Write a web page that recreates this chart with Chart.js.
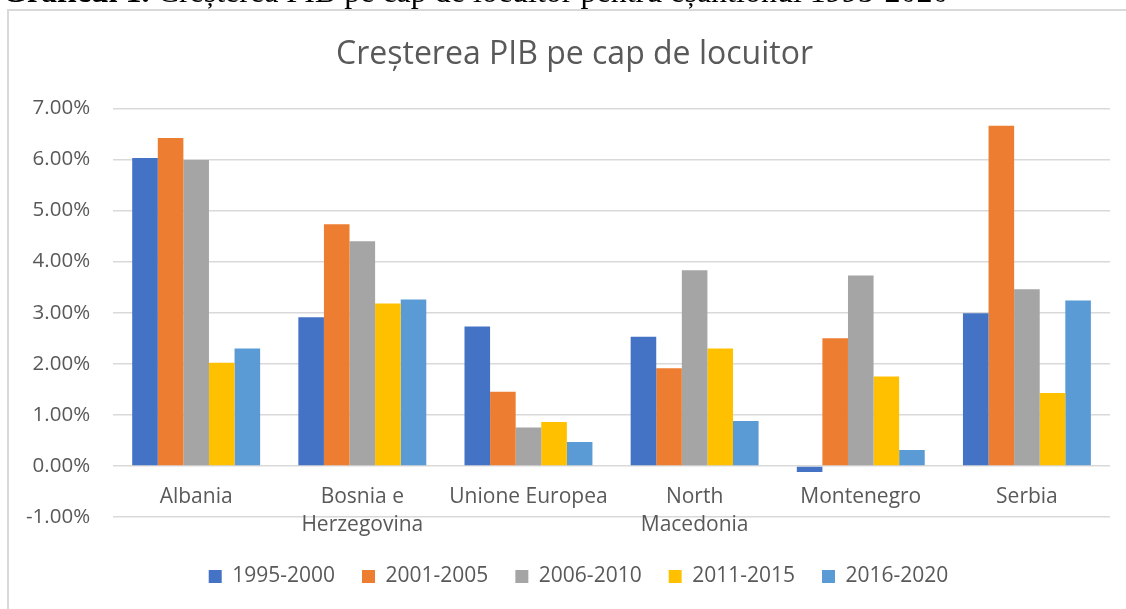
<!DOCTYPE html>
<html>
<head>
<meta charset="utf-8">
<script src="https://cdn.jsdelivr.net/npm/chart.js@4.4.1/dist/chart.umd.min.js"></script>
<style>
  html, body { margin: 0; padding: 0; background: #fff; overflow: hidden; width: 1126px; height: 609px; }
  #caption {
    position: absolute; left: 2px; top: -27px; white-space: nowrap; z-index: 2;
    font-family: "Liberation Serif", serif; font-size: 32px; color: #000;
  }
  #frame {
    position: absolute; left: 7px; top: 9px; width: 1200px; height: 700px;
    border: 2px solid #d9d9d9; box-sizing: border-box;
  }
  #plot { position: absolute; left: 0; top: 0; }
</style>
</head>
<body>
<div id="frame"></div>
<canvas id="plot" width="1150" height="609"></canvas>
<div id="caption"><b>Graficul 1.</b> Creșterea PIB pe cap de locuitor pentru eșantionul 1995-2020</div>
<script>
// Data (percent)
const countries = ['Albania', ['Bosnia e', 'Herzegovina'], 'Unione Europea', ['North', 'Macedonia'], 'Montenegro', 'Serbia'];
const periods = ['1995-2000', '2001-2005', '2006-2010', '2011-2015', '2016-2020'];
const colors = ['#4472C4', '#ED7D31', '#A5A5A5', '#FFC000', '#5B9BD5'];

const g1995 = [6.03, 2.91, 2.73, 2.53, -0.12, 2.99];
const g2001 = [6.42, 4.73, 1.45, 1.91, 2.50, 6.66];
const g2006 = [5.99, 4.40, 0.75, 3.83, 3.73, 3.46];
const g2011 = [2.02, 3.18, 0.86, 2.30, 1.75, 1.43];
const g2016 = [2.30, 3.26, 0.47, 0.88, 0.31, 3.24];
const series = [g1995, g2001, g2006, g2011, g2016];

const TEXT = '#595959';
const FONT = "'Open Sans', sans-serif";

// nudge title and legend to the right, like the frame centre in the original
const shiftBlocks = {
  id: 'shiftBlocks',
  afterLayout(chart) {
    chart.titleBlock.left += 18;
    chart.titleBlock.right += 18;
    chart.legend.left += 22;
    chart.legend.right += 22;
  }
};

const ctx = document.getElementById('plot').getContext('2d');

new Chart(ctx, {
  type: 'bar',
  data: {
    labels: countries,
    datasets: series.map((d, i) => ({
      label: periods[i],
      data: d,
      backgroundColor: colors[i],
      borderWidth: 0,
      categoryPercentage: 0.77,
      barPercentage: 1.0,
      xAxisID: 'x',
      yAxisID: 'y'
    }))
  },
  options: {
    responsive: false,
    animation: false,
    layout: { padding: { left: 3, right: 40, top: 0, bottom: 12 } },
    scales: {
      x: {
        type: 'category',
        position: { y: 0 },
        grid: { display: false, drawTicks: false },
        border: { display: false },
        ticks: {
          color: TEXT,
          font: { family: FONT, size: 21, lineHeight: 1.33 },
          padding: 17,
          maxRotation: 0,
          autoSkip: false
        }
      },
      // spacer axis: leaves the gap between plot and legend
      xSpace: {
        type: 'category',
        position: 'bottom',
        grid: { display: false, drawTicks: false },
        border: { display: false },
        ticks: { display: false },
        afterFit: s => { s.height = 22; }
      },
      y: {
        min: -1,
        max: 7,
        ticks: {
          stepSize: 1,
          color: TEXT,
          font: { family: FONT, size: 20.5 },
          padding: 23,
          callback: v => v.toFixed(2) + '%'
        },
        grid: { color: '#d9d9d9', lineWidth: 1.5, drawTicks: false },
        border: { display: false }
      }
    },
    plugins: {
      title: {
        display: true,
        text: 'Creșterea PIB pe cap de locuitor',
        color: TEXT,
        font: { family: FONT, size: 32, weight: 'normal' },
        padding: { top: 36, bottom: 34 }
      },
      legend: {
        position: 'bottom',
        labels: {
          color: TEXT,
          font: { family: FONT, size: 21 },
          boxWidth: 13,
          boxHeight: 13,
          padding: 27
        }
      },
      tooltip: { enabled: false }
    }
  },
  plugins: [shiftBlocks]
});
</script>
</body>
</html>
